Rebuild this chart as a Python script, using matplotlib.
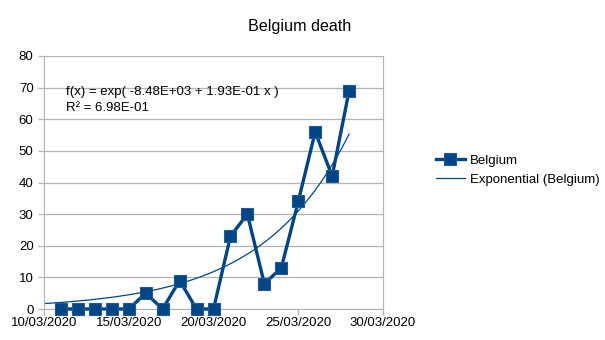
import numpy as np
import pandas as pd
import matplotlib
matplotlib.use("Agg")
import matplotlib.pyplot as plt
import matplotlib.dates as mdates

plt.rcParams['font.family'] = ['Liberation Sans', 'DejaVu Sans']

dates = pd.date_range("2020-03-11", "2020-03-28", freq="D")
deaths = [0, 0, 0, 0, 0, 5, 0, 9, 0, 0, 23, 30, 8, 13, 34, 56, 42, 69]

# exponential trend line (slope from the equation, level read at the end)
trend_slope = 0.193
trend_end = 55.3
tick_dates = ["2020-03-10", "2020-03-15", "2020-03-20", "2020-03-25", "2020-03-30"]

blue = "#004586"
grid = "#b3b3b3"

fig = plt.figure(figsize=(6.05, 3.4), dpi=100)
ax = fig.add_axes([44/605, 1 - 309/340, (383-44)/605, (309-56)/340])

tdates = pd.date_range("2020-03-10", "2020-03-28", freq="6h")
days = (tdates - tdates[-1]) / pd.Timedelta(days=1)
trend = trend_end * np.exp(trend_slope * np.asarray(days))

ax.plot(dates, deaths, color=blue, lw=2.4, marker="s", ms=8.5,
        mec="#1f5a94", mew=0.8, label="Belgium", zorder=3, clip_on=False)
ax.plot(tdates, trend, color=blue, lw=0.9, label="Exponential (Belgium)", zorder=2)

ax.set_xlim(pd.Timestamp("2020-03-10"), pd.Timestamp("2020-03-30"))
ax.set_ylim(0, 80)
ax.set_yticks(range(0, 81, 10))
ax.set_xticks(pd.to_datetime(tick_dates))
ax.xaxis.set_major_formatter(mdates.DateFormatter("%d/%m/%Y"))
ax.yaxis.grid(True, color=grid, lw=0.9)
ax.set_axisbelow(True)
for s in ax.spines.values():
    s.set_color(grid)
ax.spines["top"].set_visible(False)
ax.tick_params(colors=grid, labelcolor="black", labelsize=9.5, length=4, width=0.9)
ax.tick_params(axis="x", pad=2)

ax.text(0.066, 0.88, "f(x) = exp( -8.48E+03 + 1.93E-01 x )\nR² = 6.98E-01",
        transform=ax.transAxes, fontsize=9.5, va="top", linespacing=1.4)

fig.text(300/605, 1 - 26/340, "Belgium death", ha="center", va="center", fontsize=11.6)

fig.legend(loc="center left", bbox_to_anchor=(424/605, 1 - 170/340), frameon=False,
           fontsize=9.5, handlelength=2.2, handletextpad=0.35, labelspacing=0.5)

fig.savefig("out.png", dpi=100)
